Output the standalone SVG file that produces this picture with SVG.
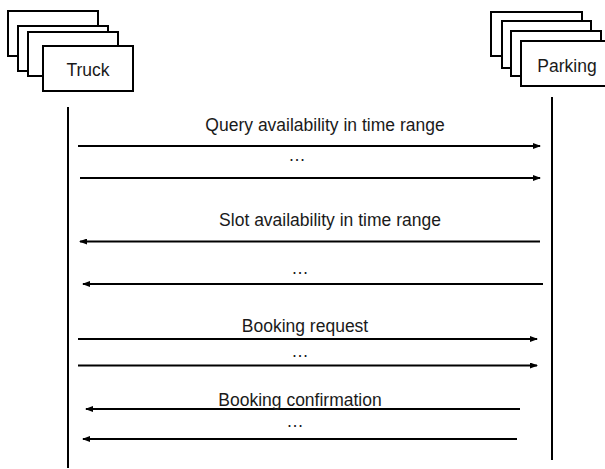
<svg xmlns="http://www.w3.org/2000/svg" width="605" height="469" viewBox="0 0 605 469">
  <style>
    .box { fill: #fff; stroke: #000; stroke-width: 2; }
    .life { stroke: #000; stroke-width: 2; fill: none; }
    .msg { stroke: #000; stroke-width: 2; fill: none; marker-end: url(#head); }
    text { font-family: "Liberation Sans", Arial, sans-serif; font-size: 17.5px; fill: #1a1a1a; text-anchor: middle; }
  </style>
  <defs>
    <marker id="head" markerWidth="8" markerHeight="6" refX="7" refY="3" orient="auto" markerUnits="userSpaceOnUse">
      <path d="M0,0 L8,3 L0,6 Z" fill="#000"/>
    </marker>
  </defs>
  <rect width="605" height="469" fill="#fff"/>

  <g id="truck">
    <rect class="box" x="8" y="11" width="90" height="45"/>
    <rect class="box" x="18" y="26" width="90" height="45"/>
    <rect class="box" x="28" y="32" width="90" height="44"/>
    <rect class="box" x="43" y="46" width="90" height="45"/>
    <text x="88" y="76">Truck</text>
    <line class="life" x1="68" y1="107" x2="68" y2="468"/>
  </g>

  <g id="parking">
    <rect class="box" x="491" y="12" width="91" height="44"/>
    <rect class="box" x="502" y="21" width="89" height="47"/>
    <rect class="box" x="511" y="31" width="90" height="45"/>
    <rect class="box" x="521" y="41" width="90" height="45"/>
    <text x="567" y="72">Parking</text>
    <line class="life" x1="552" y1="97" x2="552" y2="460"/>
  </g>

  <g id="connectors">
    <line class="msg" x1="78" y1="146" x2="540" y2="146"/>
    <line class="msg" x1="80" y1="178" x2="540" y2="178"/>
    <line class="msg" x1="540" y1="241.5" x2="80" y2="241.5"/>
    <line class="msg" x1="543" y1="284" x2="83" y2="284"/>
    <line class="msg" x1="78" y1="339" x2="537" y2="339"/>
    <line class="msg" x1="78" y1="365.5" x2="537" y2="365.5"/>
    <line class="msg" x1="520" y1="409" x2="86" y2="409"/>
    <line class="msg" x1="517" y1="439" x2="83" y2="439"/>
  </g>

  <g id="labels">
    <text x="325" y="131">Query availability in time range</text>
    <text x="297" y="161">…</text>
    <text x="330" y="226">Slot availability in time range</text>
    <text x="300" y="274">…</text>
    <text x="305" y="332">Booking request</text>
    <text x="300" y="357">…</text>
    <text x="300" y="406">Booking confirmation</text>
    <text x="295" y="427">…</text>
  </g>
</svg>
